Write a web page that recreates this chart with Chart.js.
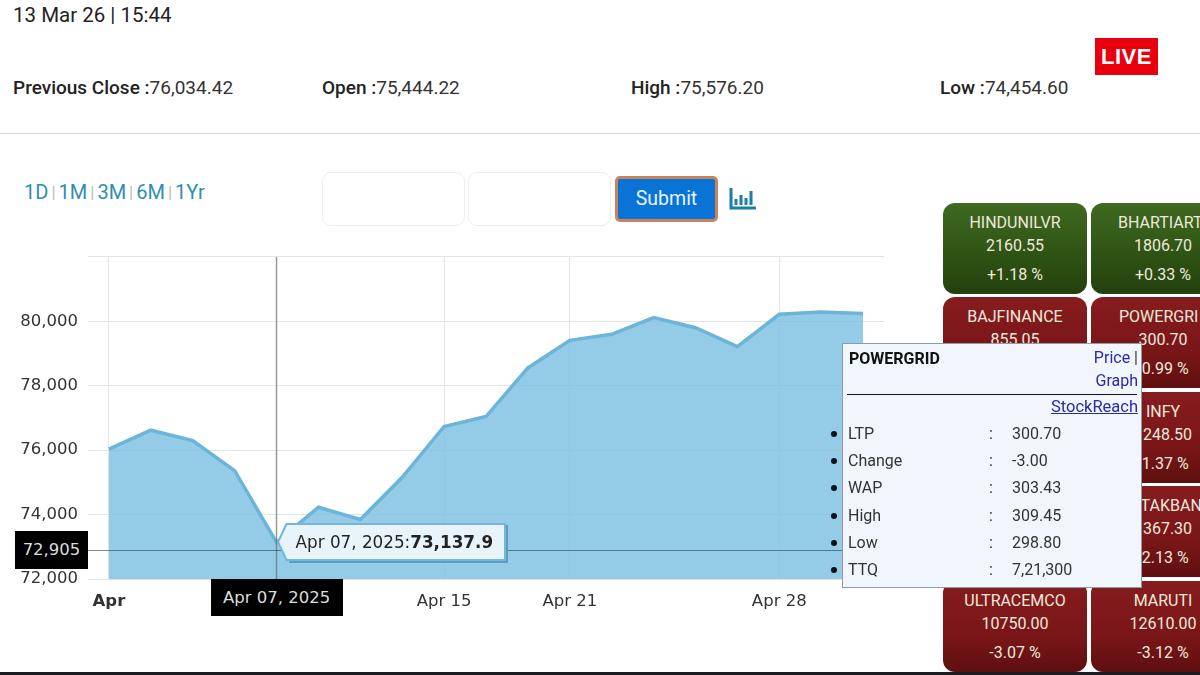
<!DOCTYPE html>
<html>
<head>
<meta charset="utf-8">
<script src="https://cdn.jsdelivr.net/npm/chart.js@4"></script>
<style>
html, body { margin: 0; padding: 0; background: #fff; }
body { width: 1200px; height: 675px; overflow: hidden; position: relative; font-family: Roboto, sans-serif; color: #222; }
.abs { position: absolute; white-space: nowrap; }
.stat { top: 76px; font-size: 19px; line-height: 24px; color: #333; }
.stat b { font-weight: 500; color: #222; }
#ranges { left: 24px; top: 179px; font-size: 20px; line-height: 26px; color: #2f8db5; }
#ranges i { font-style: normal; color: #bbb; font-size: 17px; padding: 0 3px; position: relative; top: -1px; }
.box { top: 172px; width: 141px; height: 52px; border: 1px solid #eee; border-radius: 9px; background: #fff; }
#submit { left: 615px; top: 176px; width: 97px; height: 40px; border: 3px solid #c9825a; border-radius: 5px; background: #0a74d6; color: #e4f3ff; font-size: 19.5px; line-height: 40px; text-align: center; }
#live { left: 1095px; top: 38px; width: 63px; height: 37px; background: #e8000f; color: #fff; font: bold 22px/37px "Liberation Sans", sans-serif; text-align: center; letter-spacing: 0.5px; }
#chartWrap { position: absolute; left: 0; top: 237px; width: 900px; height: 393px; }
.tile { position: absolute; width: 144px; height: 91px; border-radius: 12px; color: #efe9dc; text-align: center; font-size: 16px; overflow: hidden; }
.tile.up { background: linear-gradient(#3f6a20, #2b4d12 70%, #23400e); }
.tile.down { background: linear-gradient(#861c1e, #7a1618 60%, #5f0f10); }
.tile div { position: absolute; left: 0; right: 0; line-height: 20px; }
.tile .a { top: 10px; } .tile .b { top: 33px; } .tile .c { top: 62px; }
.blackTag { position: absolute; background: #000; color: #ddd; text-align: center; font-family: "DejaVu Sans", sans-serif; font-size: 16.5px; }
#tip { position: absolute; height: 34px; width: 208px; padding-left: 9px; background: #e9f4fa; border: 2px solid #74b6d8; border-left: none; box-shadow: 2px 2px 0 #5c9dc2; font: 16.8px/34px "DejaVu Sans", sans-serif; color: #222; white-space: nowrap; }
#tipArrow { position: absolute; overflow: visible; }
#popup { position: absolute; left: 842px; top: 343px; width: 298px; height: 243px; background: #f0f6fb; border: 1px solid #8e9ba6; font-size: 16px; color: #333; }
#popup .abs { line-height: 20px; }
#popup a { color: #2a2aa8; text-decoration: none; }
.dot { position: absolute; left: -12px; width: 6px; height: 6px; border-radius: 3px; background: #111; }
</style>
</head>
<body>
<div class="abs" style="left:13px;top:3px;font-size:20.5px;line-height:24px;color:#222">13 Mar 26 | 15:44</div>
<div class="abs stat" style="left:13px"><b>Previous Close :</b>76,034.42</div>
<div class="abs stat" style="left:322px"><b>Open :</b>75,444.22</div>
<div class="abs stat" style="left:631px"><b>High :</b>75,576.20</div>
<div class="abs stat" style="left:940px"><b>Low :</b>74,454.60</div>
<div class="abs" id="live">LIVE</div>
<div class="abs" style="left:0;top:133px;width:1200px;height:1px;background:#d8d8d8"></div>

<div class="abs" id="ranges">1D<i>|</i>1M<i>|</i>3M<i>|</i>6M<i>|</i>1Yr</div>
<div class="abs box" style="left:322px"></div>
<div class="abs box" style="left:468px"></div>
<div class="abs" id="submit">Submit</div>
<svg class="abs" style="left:729px;top:187px" width="28" height="24" viewBox="0 0 28 24">
  <path d="M2 1V21H27" fill="none" stroke="#1a7ea6" stroke-width="3"/>
  <path d="M7 12V18M12 8V18M17 11V18M22 4V18" fill="none" stroke="#1a7ea6" stroke-width="3"/>
</svg>

<div id="chartWrap"><canvas id="myChart" width="900" height="393"></canvas></div>
<div class="blackTag" id="yTag"></div>
<div class="blackTag" id="xTag"></div>
<div id="tip"></div>
<svg id="tipArrow" width="10" height="38" viewBox="0 0 10 38">
  <path d="M10 1L1 19L10 37Z" fill="#e9f4fa"/>
  <path d="M10 0L1 19L10 38" fill="none" stroke="#74b6d8" stroke-width="2"/>
</svg>

<div id="tiles"></div>

<div id="popup">
  <div class="abs" style="left:6px;top:5px;font-weight:700;font-size:16px;color:#111">POWERGRID</div>
  <div class="abs" style="right:3px;top:4px"><a>Price</a> |</div>
  <div class="abs" style="right:3px;top:27px"><a>Graph</a></div>
  <div class="abs" style="left:4px;top:50px;width:290px;height:1px;background:#111"></div>
  <div class="abs" style="right:3px;top:53px"><a style="text-decoration:underline;font-size:16.5px">StockReach</a></div>
  <div id="popRows"></div>
</div>
<div class="abs" style="left:0;top:672px;width:1200px;height:3px;background:#1a1c20"></div>

<script>
var categories = ["Apr 01", "Apr 02", "Apr 03", "Apr 04", "Apr 07", "Apr 08", "Apr 09", "Apr 11", "Apr 15", "Apr 16", "Apr 17", "Apr 21", "Apr 22", "Apr 23", "Apr 24", "Apr 25", "Apr 28", "Apr 29", "Apr 30"];
var closeValues = [76030, 76620, 76295, 75365, 73137.9, 74227, 73847, 75157, 76735, 77044, 78553, 79408, 79596, 80116, 79801, 79212, 80218, 80288, 80242];
var xTickLabels = { "Apr 01": "Apr", "Apr 07": "", "Apr 15": "Apr 15", "Apr 21": "Apr 21", "Apr 28": "Apr 28" };
var yTicksHidden = [82000];
var crossDate = "Apr 07";
var crossDateLabel = "Apr 07, 2025";
var crossValue = 72905;

// names at the right edge are written as far as the page shows them
var tiles = [
  [943, 203, "up", "HINDUNILVR", "2160.55", "+1.18 %"],
  [1091, 203, "up", "BHARTIART", "1806.70", "+0.33 %", 27],
  [943, 297, "down", "BAJFINANCE", "855.05", ""],
  [1091, 297, "down", "POWERGRI", "300.70", "-0.99 %", 28],
  [943, 392, "down", "", "", ""],
  [1091, 392, "down", "INFY", "1248.50", "-1.37 %"],
  [943, 486, "down", "", "", ""],
  [1091, 486, "down", "KOTAKBAN", "1367.30", "-2.13 %", 29],
  [943, 581, "down", "ULTRACEMCO", "10750.00", "-3.07 %"],
  [1091, 581, "down", "MARUTI", "12610.00", "-3.12 %"]
];
var popLabels = ["LTP", "Change", "WAP", "High", "Low", "TTQ"];
var popValues = ["300.70", "-3.00", "303.43", "309.45", "298.80", "7,21,300"];

var tilesDiv = document.getElementById("tiles");
tiles.forEach(function (t) {
  var d = document.createElement("div");
  d.className = "tile " + t[2];
  d.style.left = t[0] + "px";
  d.style.top = t[1] + "px";
  var nameStyle = t[6] ? ' style="text-align:left;left:' + t[6] + 'px"' : "";
  d.innerHTML = '<div class="a"' + nameStyle + '>' + t[3] + '</div><div class="b">' + t[4] + '</div><div class="c">' + t[5] + '</div>';
  tilesDiv.appendChild(d);
});

var popRows = document.getElementById("popRows");
popLabels.forEach(function (label, i) {
  var top = 80 + i * 27.2;
  popRows.innerHTML += '<div class="dot" style="top:' + (top + 7) + 'px"></div>' +
    '<div class="abs" style="left:5px;top:' + top + 'px">' + label + '</div>' +
    '<div class="abs" style="left:146px;top:' + top + 'px">:</div>' +
    '<div class="abs" style="left:169px;top:' + top + 'px">' + popValues[i] + '</div>';
});

// crosshair sits on top of the area, from the library's own scales
var crosshair = {
  id: "crosshair",
  afterDraw: function (chart) {
    var c = chart.ctx, a = chart.chartArea;
    var x = chart.scales.x.getPixelForValue(categories.indexOf(crossDate));
    var y = chart.scales.y.getPixelForValue(crossValue);
    c.save();
    c.strokeStyle = "rgba(90,100,110,0.6)";
    c.lineWidth = 1.5;
    c.beginPath();
    c.moveTo(x, a.top);
    c.lineTo(x, a.bottom);
    c.stroke();
    c.strokeStyle = "rgba(45,75,95,0.65)";
    c.lineWidth = 1;
    c.beginPath();
    c.moveTo(a.left, Math.round(y) + 0.5);
    c.lineTo(a.right, Math.round(y) + 0.5);
    c.stroke();
    c.restore();
  }
};

var ctx = document.getElementById("myChart").getContext("2d");
var myChart = new Chart(ctx, {
  type: "line",
  data: {
    labels: categories,
    datasets: [
      {
        data: closeValues,
        fill: "start",
        backgroundColor: "rgba(124,192,224,0.82)",
        borderColor: "#6cb4d8",
        borderWidth: 3.5,
        pointRadius: 0,
        tension: 0,
      },
    ],
  },
  options: {
    responsive: false,
    animation: false,
    events: [],
    layout: { padding: { top: 12, right: 16, left: 0, bottom: 0 } },
    plugins: { legend: { display: false }, tooltip: { enabled: false } },
    scales: {
      x: {
        offset: true,
        border: { display: false },
        grid: { offset: false, color: "#e4e4e4", drawTicks: false },
        ticks: {
          autoSkip: false,
          maxRotation: 0,
          padding: 13,
          color: "#333",
          font: function (c) {
            return { family: "'DejaVu Sans', sans-serif", size: 16.5, weight: c.index === 0 ? "bold" : "normal" };
          },
          callback: function (v, i) {
            var t = xTickLabels[categories[i]];
            return t === undefined ? null : t;
          },
        },
        afterFit: function (s) { s.height = 51; },
      },
      y: {
        min: 72000,
        max: 82000,
        border: { display: false },
        grid: { color: "#e4e4e4", drawTicks: false },
        ticks: {
          stepSize: 2000,
          padding: 10,
          color: "#333",
          font: { family: "'DejaVu Sans', sans-serif", size: 16.5 },
          callback: function (v) {
            return yTicksHidden.indexOf(v) !== -1 ? "" : v.toLocaleString("en-US");
          },
        },
        afterFit: function (s) { s.width = 88; },
      },
    },
  },
  plugins: [crosshair],
});

// tags and tooltip are placed from the scales
var wrapTop = 237;
var crossIdx = categories.indexOf(crossDate);
var px = myChart.scales.x.getPixelForValue(crossIdx);
var py = myChart.scales.y.getPixelForValue(closeValues[crossIdx]) + wrapTop;
var cy = myChart.scales.y.getPixelForValue(crossValue) + wrapTop;
var bottom = myChart.chartArea.bottom + wrapTop;

var yTag = document.getElementById("yTag");
yTag.textContent = crossValue.toLocaleString("en-US");
yTag.style.cssText = "left:15px;width:73px;height:38px;line-height:38px;top:" + (cy - 19) + "px";

var xTag = document.getElementById("xTag");
xTag.textContent = crossDateLabel;
xTag.style.cssText = "left:" + (px - 66) + "px;width:132px;height:37px;line-height:37px;top:" + bottom + "px";

var tip = document.getElementById("tip");
tip.innerHTML = crossDateLabel + ":<b>" + closeValues[crossIdx].toLocaleString("en-US") + "</b>";
tip.style.left = px + 10 + "px";
tip.style.top = py - 19 + "px";
var arrow = document.getElementById("tipArrow");
arrow.style.left = px + "px";
arrow.style.top = py - 19 + "px";
</script>
</body>
</html>
